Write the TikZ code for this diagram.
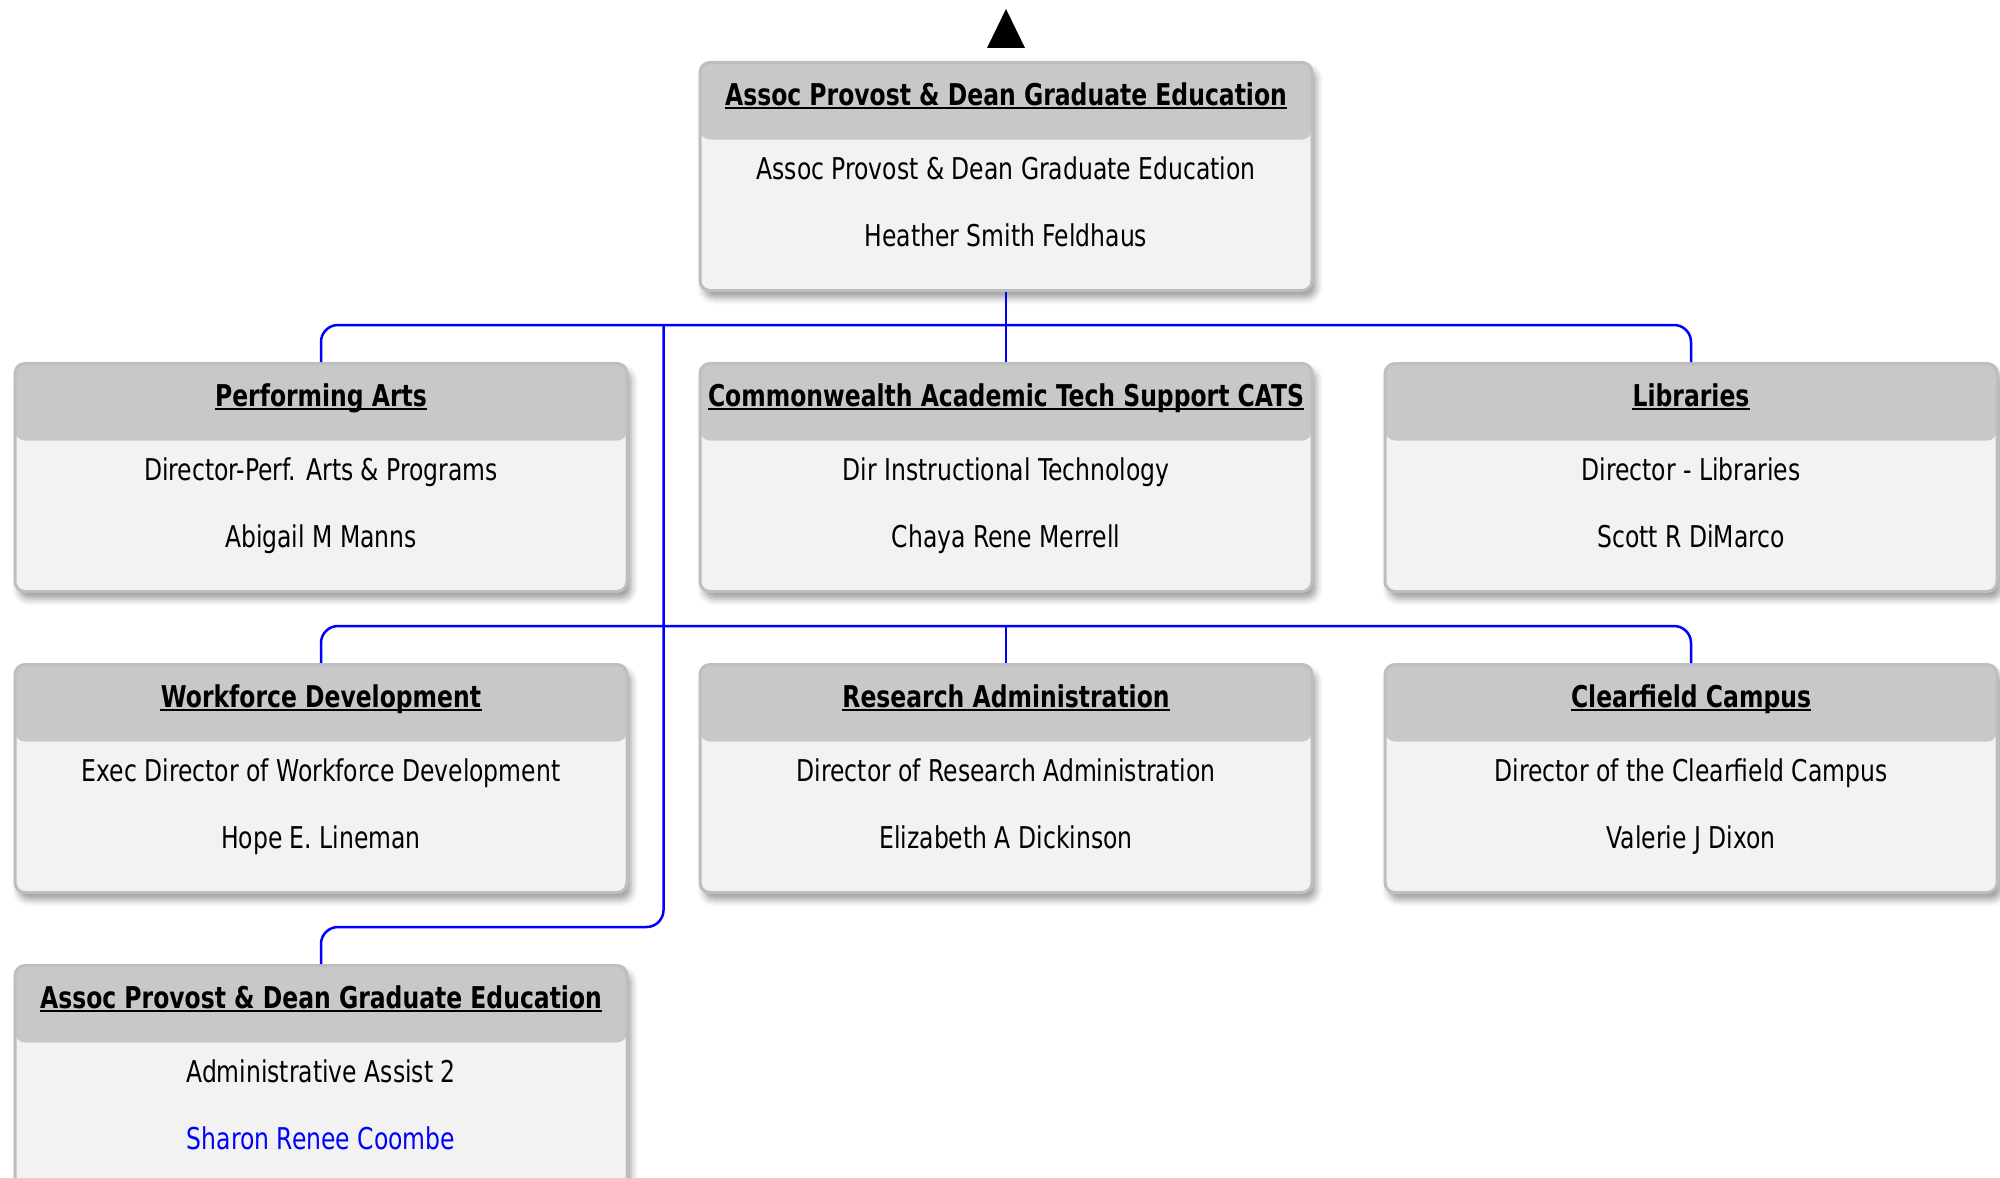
\documentclass[tikz,border=0pt]{standalone}
\usepackage{fontspec}
\setmainfont{DejaVu Sans Condensed}[FakeStretch=0.87]
\usetikzlibrary{positioning,shadows.blur}
\definecolor{hdrgray}{HTML}{C8C8C8}
\definecolor{bodygray}{HTML}{F2F2F2}
\definecolor{edgegray}{HTML}{BEBEBE}
\definecolor{linkblue}{HTML}{0000FF}

\begin{document}
\begin{tikzpicture}[
    x=0.5pt, y=-0.5pt,
    node distance=35pt,
    font=\fontsize{15pt}{18pt}\selectfont,
    orgbox/.style={rectangle, rounded corners=5pt, draw=edgegray, line width=1.5pt, fill=bodygray,
        minimum width=306pt, minimum height=114pt, inner sep=0pt,
        blur shadow={shadow xshift=2pt, shadow yshift=-3.5pt, shadow blur radius=3.5pt, shadow opacity=40},
        path picture={\fill[hdrgray] (path picture bounding box.north west)
            rectangle ([yshift=-38.5pt]path picture bounding box.north east);}},
    title/.style={font=\fontsize{15pt}{18pt}\selectfont\bfseries, inner sep=0pt, anchor=base},
    line/.style={inner sep=0pt, anchor=base},
    uline/.style={line width=0.9pt},
    link/.style={draw=linkblue, line width=1.25pt, rounded corners=8.5pt}
]
    \useasboundingbox (0,0) rectangle (2000,1177);

    % --- BOXES ---
    \node[orgbox, anchor=north] (perf) at (321,362) {};
    \node[orgbox, right=of perf] (cats) {};
    \node[orgbox, right=of cats] (lib) {};
    \node[orgbox, above=of cats] (top) {};
    \node[orgbox, below=of perf] (wfd) {};
    \node[orgbox, below=of cats] (resadm) {};
    \node[orgbox, below=of lib] (clfd) {};
    \node[orgbox, below=of wfd] (asst) {};

    % --- TEXTS: title / role / person ---
    \foreach \b/\t/\r/\p in {
        top/{Assoc Provost \& Dean Graduate Education}/{Assoc Provost \& Dean Graduate Education}/{Heather Smith Feldhaus},
        perf/{Performing Arts}/{Director-Perf. Arts \& Programs}/{Abigail M Manns},
        cats/{Commonwealth Academic Tech Support CATS}/{Dir Instructional Technology}/{Chaya Rene Merrell},
        lib/{Libraries}/{Director - Libraries}/{Scott R DiMarco},
        wfd/{Workforce Development}/{Exec Director of Workforce Development}/{Hope E. Lineman},
        resadm/{Research Administration}/{Director of Research Administration}/{Elizabeth A Dickinson},
        clfd/{Clearfield Campus}/{Director of the Clearfield Campus}/{Valerie J Dixon},
        asst/{Assoc Provost \& Dean Graduate Education}/{Administrative Assist 2}/{\textcolor{linkblue}{Sharon Renee Coombe}}}
    {
        \node[title] (\b-t) at ([yshift=-22pt]\b.north) {\t};
        \draw[uline] ([yshift=-1.6pt]\b-t.base west) -- ([yshift=-1.6pt]\b-t.base east);
        \node[line] (\b-r) at ([yshift=-59pt]\b.north) {\r};
        \node[line] (\b-p) at ([yshift=-92.5pt]\b.north) {\p};
    }

    % --- MARKER ABOVE TOP BOX ---
    \fill ([xshift=-9.5pt, yshift=6.5pt]top.north) -- ([yshift=26pt]top.north)
        -- ([xshift=9.5pt, yshift=6.5pt]top.north) -- cycle;

    % --- CONNECTORS ---
    \path (perf.north east) -- (cats.north west) coordinate[pos=0.5] (spine);
    \draw[link] (top.south) -- (cats.north);
    \draw[link] (perf.north) -- ++(0,-37) -| (lib.north);
    \draw[link] (wfd.north) -- ++(0,-37) -| (clfd.north);
    \draw[link] (resadm.north) -- ++(0,-37);
    \draw[link] ([yshift=18.5pt]spine) |- ([yshift=18.5pt]asst.north) -- (asst.north);
\end{tikzpicture}
\end{document}
